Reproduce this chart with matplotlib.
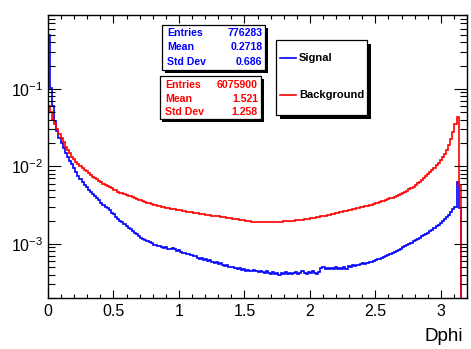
import numpy as np
import matplotlib
matplotlib.use("Agg")
import matplotlib.pyplot as plt
from matplotlib.patches import Rectangle
from matplotlib.lines import Line2D
from matplotlib import ticker

plt.rcParams['font.family'] = ['Liberation Sans', 'DejaVu Sans']
plt.rcParams['mathtext.default'] = 'regular'

# ---------------- data ----------------
BIN_WIDTH = 0.016  # 200 bins over [0, 3.2]; only non-empty bins listed

signal = [
    0.49, 0.103, 0.060, 0.039, 0.029, 0.0235, 0.0200, 0.0172, 0.0150, 0.0134,
    0.0117, 0.0106, 0.0095, 0.0084, 0.0076, 0.0069, 0.0063, 0.0058, 0.0054, 0.0050,
    0.0047, 0.0044, 0.0042, 0.0039, 0.0037, 0.0034, 0.0032, 0.0030, 0.0029, 0.0027,
    0.0025, 0.0024, 0.0022, 0.0021, 0.0020, 0.00192, 0.00180, 0.00172, 0.00162, 0.00155,
    0.00146, 0.00140, 0.00133, 0.00126, 0.00120, 0.00117, 0.00113, 0.00109, 0.00106, 0.00102,
    0.00098, 0.00097, 0.00095, 0.00094, 0.00091, 0.00089, 0.00090, 0.00087, 0.00086, 0.00088,
    0.00085, 0.00081, 0.00083, 0.00079, 0.00077, 0.00076, 0.00073, 0.00074, 0.00071, 0.00069,
    0.00070, 0.00066, 0.00064, 0.00065, 0.00062, 0.00063, 0.00060, 0.00061, 0.00058, 0.00057,
    0.00058, 0.00055, 0.00056, 0.00054, 0.00052, 0.00053, 0.00051, 0.00050, 0.00051, 0.00049,
    0.00048, 0.00049, 0.00046, 0.00047, 0.00045, 0.00046, 0.00045, 0.00044, 0.00046, 0.00044,
    0.00043, 0.00045, 0.00043, 0.00042, 0.00044, 0.00042, 0.00041, 0.00043, 0.00041, 0.00042,
    0.00040, 0.00042, 0.00041, 0.00043, 0.00041, 0.00042, 0.00041, 0.00042, 0.00043, 0.00041,
    0.00042, 0.00044, 0.00042, 0.00041, 0.00043, 0.00042, 0.00044, 0.00042, 0.00041, 0.00043,
    0.00049, 0.00050, 0.00048, 0.00049, 0.00047, 0.00049, 0.00048, 0.00050, 0.00047, 0.00049,
    0.00048, 0.00050, 0.00048, 0.00052, 0.00051, 0.00053, 0.00052, 0.00054, 0.00053, 0.00055,
    0.00056, 0.00055, 0.00057, 0.00058, 0.00059, 0.00060, 0.00061, 0.00063, 0.00064, 0.00066,
    0.00068, 0.00070, 0.00072, 0.00074, 0.00077, 0.00079, 0.00082, 0.00084, 0.00087, 0.00090,
    0.00094, 0.00097, 0.00101, 0.00104, 0.00108, 0.00112, 0.00116, 0.00120, 0.00125, 0.00130,
    0.00135, 0.00140, 0.00146, 0.00153, 0.00160, 0.00168, 0.00176, 0.00185, 0.00195, 0.00207,
    0.00221, 0.00238, 0.00258, 0.00283, 0.00300, 0.00620, 0.00290,
]

background = [
    0.060, 0.051, 0.040, 0.035, 0.030, 0.026, 0.0232, 0.0205, 0.0180, 0.0161,
    0.0148, 0.0134, 0.0123, 0.0115, 0.0107, 0.0101, 0.0095, 0.0090, 0.0086, 0.0082,
    0.0078, 0.0074, 0.0071, 0.0068, 0.0065, 0.0062, 0.0060, 0.0058, 0.0056, 0.0054,
    0.0052, 0.0050, 0.0049, 0.0047, 0.0046, 0.0045, 0.0044, 0.0043, 0.0042, 0.0041,
    0.0040, 0.00390, 0.00381, 0.00372, 0.00364, 0.00356, 0.00348, 0.00341, 0.00334, 0.00327,
    0.00320, 0.00314, 0.00308, 0.00304, 0.00300, 0.00296, 0.00292, 0.00288, 0.00285, 0.00282,
    0.00279, 0.00276, 0.00273, 0.00270, 0.00267, 0.00264, 0.00261, 0.00258, 0.00255, 0.00253,
    0.00250, 0.00248, 0.00245, 0.00243, 0.00241, 0.00238, 0.00236, 0.00234, 0.00232, 0.00230,
    0.00228, 0.00226, 0.00224, 0.00222, 0.00220, 0.00218, 0.00216, 0.00214, 0.00212, 0.00210,
    0.00208, 0.00206, 0.00204, 0.00202, 0.00200, 0.00198, 0.00196, 0.00194, 0.00193, 0.00192,
    0.00191, 0.00190, 0.00190, 0.00189, 0.00190, 0.00190, 0.00190, 0.00191, 0.00191, 0.00192,
    0.00193, 0.00194, 0.00195, 0.00196, 0.00197, 0.00198, 0.00199, 0.00200, 0.00202, 0.00203,
    0.00205, 0.00206, 0.00208, 0.00209, 0.00211, 0.00213, 0.00215, 0.00218, 0.00220, 0.00223,
    0.00226, 0.00229, 0.00232, 0.00235, 0.00238, 0.00241, 0.00245, 0.00248, 0.00252, 0.00255,
    0.00259, 0.00262, 0.00266, 0.00270, 0.00274, 0.00278, 0.00282, 0.00287, 0.00291, 0.00296,
    0.00301, 0.00306, 0.00311, 0.00316, 0.00322, 0.00328, 0.00334, 0.00340, 0.00347, 0.00354,
    0.00361, 0.00369, 0.00377, 0.00386, 0.00395, 0.00405, 0.00415, 0.00426, 0.00437, 0.00449,
    0.00470, 0.00487, 0.00506, 0.00527, 0.00550, 0.00575, 0.00602, 0.00632, 0.00665, 0.00702,
    0.00744, 0.00790, 0.00840, 0.00897, 0.00960, 0.0103, 0.0111, 0.0120, 0.0132, 0.0146,
    0.0165, 0.0190, 0.0225, 0.0280, 0.0350, 0.0440, 0.0058,
]

x_major = [0, 0.5, 1, 1.5, 2, 2.5, 3]
x_tick_labels = ['0', '0.5', '1', '1.5', '2', '2.5', '3']
y_major = [1e-3, 1e-2, 1e-1]
y_tick_labels = [r'$10^{-3}$', r'$10^{-2}$', r'$10^{-1}$']

signal_stats = [("Entries", "776283"), ("Mean", "0.2718"), ("Std Dev", "0.686")]
background_stats = [("Entries", "6075900"), ("Mean", "1.521"), ("Std Dev", "1.258")]
legend_labels = ["Signal", "Background"]
x_title = "Dphi"

BLUE = (0, 0, 1)
RED = (1, 0, 0)

# ---------------- figure ----------------
W, H = 471, 349
fig = plt.figure(figsize=(W / 100, H / 100), dpi=100)
fig.patch.set_facecolor('white')
ax = fig.add_axes([48 / W, 1 - 298 / H, (467 - 48) / W, (298 - 15) / H])

edges_s = np.arange(len(signal) + 1) * BIN_WIDTH
edges_b = np.arange(len(background) + 1) * BIN_WIDTH
ax.stairs(signal, edges_s, baseline=1e-6, fill=False, color=BLUE, lw=1.2)
ax.stairs(background, edges_b, baseline=1e-6, fill=False, color=RED, lw=1.2)

ax.set_yscale('log')
ax.set_xlim(0, 3.2)
ax.set_ylim(2.0e-4, 0.9)

ax.set_xticks(x_major)
ax.set_xticklabels(x_tick_labels)
ax.xaxis.set_minor_locator(ticker.MultipleLocator(0.1))
ax.set_yticks(y_major)
ax.set_yticklabels(y_tick_labels)
ax.yaxis.set_minor_locator(ticker.LogLocator(base=10, subs=np.arange(2, 10)))
ax.yaxis.set_minor_formatter(ticker.NullFormatter())

ax.tick_params(which='both', direction='in', top=True, right=True, width=0.8, colors='black')
ax.xaxis.set_tick_params(which='major', length=5.8, pad=4, labelsize=11.5)
ax.xaxis.set_tick_params(which='minor', length=2.9)
ax.yaxis.set_tick_params(which='major', length=9.4, pad=3.5, labelsize=11.5)
ax.yaxis.set_tick_params(which='minor', length=4.7)
for s in ax.spines.values():
    s.set_linewidth(1.0)

fig.text(463 / W, 1 - 341 / H, x_title, ha='right', va='baseline', fontsize=13.5)


def rect_px(x0, y0, x1, y1, **kw):
    return Rectangle((x0 / W, 1 - y1 / H), (x1 - x0) / W, (y1 - y0) / H,
                     transform=fig.transFigure, **kw)


def shadow_box(x0, y0, x1, y1, sh):
    fig.add_artist(rect_px(x0 + sh, y0 + sh, x1 + sh, y1 + sh,
                           facecolor='black', edgecolor='black', lw=0, zorder=5))
    fig.add_artist(rect_px(x0, y0, x1, y1, facecolor='white',
                           edgecolor='black', lw=0.9, zorder=6))


def stats_box(x0, y0, x1, y1, rows_y, lx, rx, stats, color):
    shadow_box(x0, y0, x1, y1, 2.5)
    for (name, val), ry in zip(stats, rows_y):
        fig.text(lx / W, 1 - ry / H, name, ha='left', va='center', color=color,
                 fontsize=7.6, fontweight='bold', zorder=7)
        fig.text(rx / W, 1 - ry / H, val, ha='right', va='center', color=color,
                 fontsize=7.6, fontweight='bold', zorder=7)


stats_box(162, 25, 265, 70, [33.5, 47.5, 62.0], 167, 262.5, signal_stats, BLUE)
stats_box(159.5, 76, 261, 119, [84.5, 98.5, 112.0], 165, 258, background_stats, RED)

# legend
shadow_box(276, 39.5, 366.5, 115, 4)
for label, ly, col in zip(legend_labels, [58.3, 95.0], [BLUE, RED]):
    fig.add_artist(Line2D([279.5 / W, 295.5 / W], [1 - ly / H, 1 - ly / H],
                          transform=fig.transFigure, color=col, lw=1.2, zorder=7))
    fig.text(299 / W, 1 - ly / H, label, ha='left', va='center', color='black',
             fontsize=8, fontweight='bold', zorder=7)

fig.savefig('out.png', dpi=100)
